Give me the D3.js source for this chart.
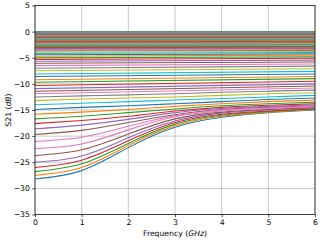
<!DOCTYPE html>
<html>
<head>
<meta charset="utf-8">
<script src="https://cdn.jsdelivr.net/npm/d3@7"></script>
<style>
  body { margin: 0; background: #fff; }
  text { font-family: "DejaVu Sans", sans-serif; }
</style>
</head>
<body>
<script>
var w = 320;
var h = 241;

var freqs = [0, 1, 2, 3, 4, 5, 6];
var xTicks = [0, 1, 2, 3, 4, 5, 6];
var yTicks = [-35, -30, -25, -20, -15, -10, -5, 0, 5];

// lowest family, bottom up, read at 0..6 GHz
var lowerCurves = [
  [-28.2, -26.6, -22.2, -18.3, -16.4, -15.5, -15.0],
  [-27.5, -26.0, -21.8, -18.0, -16.2, -15.4, -14.9],
  [-26.8, -25.3, -21.4, -17.7, -16.0, -15.3, -14.8],
  [-26.0, -24.6, -20.9, -17.4, -15.8, -15.2, -14.7],
  [-25.0, -23.8, -20.3, -17.1, -15.6, -15.0, -14.6],
  [-23.7, -22.6, -19.6, -16.7, -15.4, -14.9, -14.5],
  [-22.4, -21.5, -18.8, -16.3, -15.2, -14.7, -14.4]
];

// nearly straight lines, top down: value at 0 GHz and at 6 GHz
var flatAt0 = [
  -0.02, -0.04, -0.06, -0.09, -0.12, -0.15, -0.18, -0.21, -0.25, -0.29,
  -0.33, -0.37, -0.41, -0.45, -0.49, -0.53, -0.57, -0.61, -0.66, -0.71,
  -0.77, -0.83, -0.89, -0.95, -1.01, -1.07, -1.13, -1.19, -1.25, -1.32,
  -1.40, -1.48, -1.56, -1.64, -1.72, -1.80, -1.89, -1.98, -2.08, -2.18,
  -2.29, -2.40, -2.52, -2.65, -2.78, -2.92, -3.06, -3.21, -3.37, -3.54,
  -3.72, -3.94, -4.18, -4.44, -4.72, -5.02, -5.34, -5.68, -6.05, -6.50,
  -7.0, -7.5, -8.1, -8.6, -9.2, -9.7, -10.3, -10.9, -11.4, -11.9
];
var flatAt6 = [
  -0.02, -0.04, -0.06, -0.09, -0.12, -0.15, -0.18, -0.21, -0.25, -0.29,
  -0.33, -0.37, -0.41, -0.45, -0.49, -0.53, -0.57, -0.61, -0.66, -0.71,
  -0.77, -0.83, -0.89, -0.95, -1.01, -1.07, -1.13, -1.19, -1.25, -1.32,
  -1.40, -1.48, -1.56, -1.64, -1.72, -1.80, -1.89, -1.98, -2.08, -2.18,
  -2.25, -2.35, -2.47, -2.60, -2.72, -2.86, -3.00, -3.14, -3.30, -3.46,
  -3.60, -3.80, -4.00, -4.25, -4.50, -4.80, -5.10, -5.45, -5.80, -6.20,
  -6.6, -7.1, -7.6, -8.1, -8.6, -9.0, -9.5, -10.0, -10.4, -10.8
];

// curved lines under the straight ones, top down, read at 0..6 GHz
var upperCurves = [
  [-12.5, -12.3, -12.1, -11.9, -11.6, -11.4, -11.2],
  [-13.2, -12.9, -12.7, -12.5, -12.2, -11.9, -11.7],
  [-14.0, -13.7, -13.4, -13.1, -12.8, -12.5, -12.2],
  [-14.9, -14.5, -14.2, -13.8, -13.4, -13.0, -12.7],
  [-15.8, -15.4, -14.9, -14.3, -13.8, -13.4, -13.1],
  [-16.7, -16.2, -15.5, -14.8, -14.2, -13.8, -13.5],
  [-17.6, -17.0, -16.2, -15.2, -14.5, -14.1, -13.8],
  [-18.6, -17.9, -16.8, -15.5, -14.7, -14.3, -14.0],
  [-19.7, -18.9, -17.4, -15.9, -14.9, -14.5, -14.2],
  [-21.0, -20.2, -18.1, -16.1, -15.0, -14.6, -14.3]
];

// plot order: lowest family, straight lines, then the curved upper ones
var series = [];
lowerCurves.forEach(function(v) {
  series.push(freqs.map(function(f, i) { return [f, v[i]]; }));
});
flatAt0.forEach(function(v, i) {
  series.push([[0, v], [6, flatAt6[i]]]);
});
upperCurves.forEach(function(v) {
  series.push(freqs.map(function(f, i) { return [f, v[i]]; }));
});

var pLeft = 35, pRight = 315, pTop = 5.5, pBottom = 214.5;

var x = d3.scaleLinear().domain([0, 6]).range([pLeft, pRight]);
var y = d3.scaleLinear().domain([-35, 5]).range([pBottom, pTop]);
var color = d3.scaleOrdinal(d3.schemeCategory10);

var svg = d3.select("body").append("svg")
            .attr("width", w)
            .attr("height", h);

svg.append("defs").append("clipPath").attr("id", "plot")
   .append("rect")
   .attr("x", pLeft).attr("y", pTop)
   .attr("width", pRight - pLeft).attr("height", pBottom - pTop);

// grid
svg.append("g").selectAll("line")
   .data(xTicks).enter().append("line")
   .attr("x1", function(d) { return x(d); })
   .attr("x2", function(d) { return x(d); })
   .attr("y1", pTop).attr("y2", pBottom)
   .attr("stroke", "#b0b0b0").attr("stroke-width", 0.7);
svg.append("g").selectAll("line")
   .data(yTicks).enter().append("line")
   .attr("y1", function(d) { return y(d); })
   .attr("y2", function(d) { return y(d); })
   .attr("x1", pLeft).attr("x2", pRight)
   .attr("stroke", "#b0b0b0").attr("stroke-width", 0.7);

var line = d3.line()
             .x(function(d) { return x(d[0]); })
             .y(function(d) { return y(d[1]); })
             .curve(d3.curveNatural);

svg.append("g").attr("clip-path", "url(#plot)")
   .selectAll("path")
   .data(series).enter().append("path")
   .attr("d", line)
   .attr("fill", "none")
   .attr("stroke", function(d, i) { return color(i % 10); })
   .attr("stroke-width", 1.1);

// axes
var fmt = d3.format("d");
var xAxis = svg.append("g")
   .attr("transform", "translate(0," + pBottom + ")")
   .call(d3.axisBottom(x).tickValues(xTicks).tickFormat(fmt).tickSize(2.7).tickPadding(2.4));
var yAxis = svg.append("g")
   .attr("transform", "translate(" + pLeft + ",0)")
   .call(d3.axisLeft(y).tickValues(yTicks).tickFormat(fmt).tickSize(2.7).tickPadding(2.4));

[xAxis, yAxis].forEach(function(g) {
  g.select(".domain").remove();
  g.selectAll(".tick line").attr("stroke", "#000").attr("stroke-width", 0.7);
  g.selectAll(".tick text")
   .attr("font-family", "DejaVu Sans")
   .attr("font-size", "7.7px")
   .attr("fill", "#000");
});

// spines
svg.append("rect")
   .attr("x", pLeft).attr("y", pTop)
   .attr("width", pRight - pLeft).attr("height", pBottom - pTop)
   .attr("fill", "none").attr("stroke", "#000").attr("stroke-width", 0.7);

// labels
var xl = svg.append("text")
   .attr("x", (pLeft + pRight) / 2).attr("y", 235.5)
   .attr("text-anchor", "middle")
   .attr("font-size", "7.7px");
xl.append("tspan").text("Frequency (");
xl.append("tspan").attr("font-style", "italic").text("GHz");
xl.append("tspan").text(")");

var yl = svg.append("text")
   .attr("transform", "translate(10.5," + ((pTop + pBottom) / 2) + ") rotate(-90)")
   .attr("text-anchor", "middle")
   .attr("font-size", "7.7px");
yl.append("tspan").text("S21 (");
yl.append("tspan").attr("font-style", "italic").text("dB");
yl.append("tspan").text(")");
</script>
</body>
</html>
